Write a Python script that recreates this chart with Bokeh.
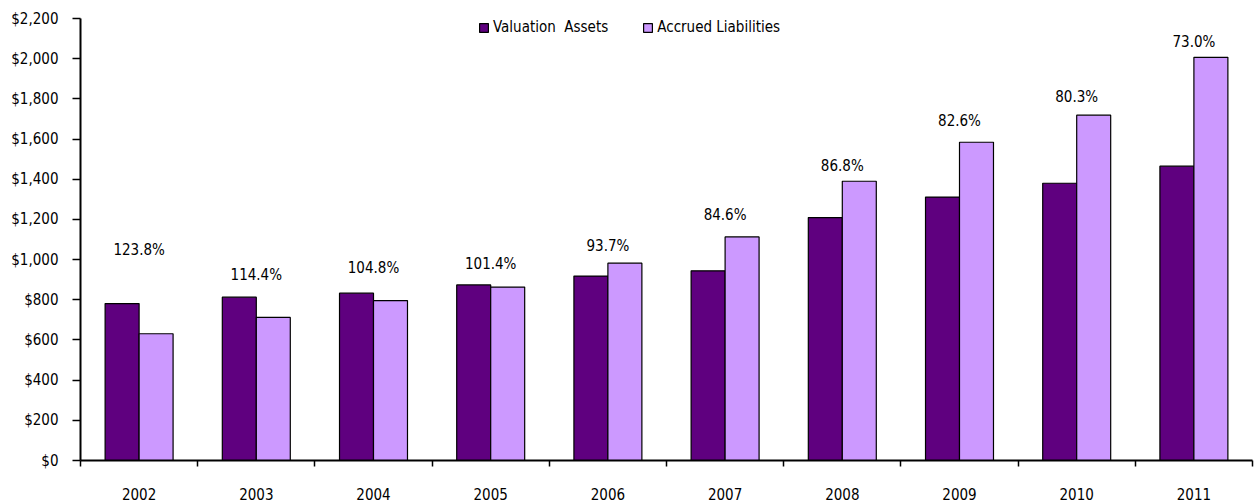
from bokeh.plotting import figure
from bokeh.models import (ColumnDataSource, FixedTicker, NumeralTickFormatter,
                          Range1d, Legend, LegendItem)
from bokeh.core.properties import value
from bokeh.embed import file_html
from bokeh.resources import INLINE

years = ["2002", "2003", "2004", "2005", "2006", "2007", "2008", "2009", "2010", "2011"]
valuation_assets = [781, 813, 833, 874, 918, 944, 1209, 1311, 1380, 1465]
accrued_liabilities = [631, 712, 796, 863, 982, 1113, 1390, 1584, 1719, 2007]
funded_ratio = ["123.8%", "114.4%", "104.8%", "101.4%", "93.7%", "84.6%", "86.8%", "82.6%", "80.3%", "73.0%"]
label_level = [1050, 921, 956, 976, 1070, 1224, 1468, 1689, 1808, 2082]
y_ticks = list(range(0, 2201, 200))

FONT = "'Liberation Sans Narrow', 'DejaVu Sans Condensed', sans-serif"
ASSET_COLOR = "#5F007F"
LIAB_COLOR = "#CC99FF"

n = len(years)
centers = [i + 0.5 for i in range(n)]
bw = 0.29

src = ColumnDataSource(dict(
    xa=[c - bw / 2 for c in centers],
    xl=[c + bw / 2 for c in centers],
    xc=centers,
    assets=valuation_assets,
    liab=accrued_liabilities,
    lab=funded_ratio,
    ly=label_level,
))

p = figure(width=1256, height=504, output_backend="svg", toolbar_location=None,
           x_range=Range1d(0, n), y_range=Range1d(0, 2200),
           min_border_left=80, min_border_right=4, min_border_top=18, min_border_bottom=44)
p.outline_line_color = None
p.xgrid.grid_line_color = None
p.ygrid.grid_line_color = None
p.background_fill_color = "white"
p.border_fill_color = "white"

ra = p.vbar(x="xa", top="assets", width=bw, source=src, fill_color=ASSET_COLOR,
            line_color="black", line_width=1.2)
rl = p.vbar(x="xl", top="liab", width=bw, source=src, fill_color=LIAB_COLOR,
            line_color="black", line_width=1.2)

p.text(x="xc", y="ly", text="lab", source=src, text_align="center",
       text_baseline="middle", text_font=value(FONT), text_font_size="15px",
       text_color="black")

# x axis: labels at category centers, tick marks at boundaries
xa = p.xaxis[0]
xa.ticker = FixedTicker(ticks=centers, minor_ticks=list(range(n + 1)))
xa.major_label_overrides = {c: y for c, y in zip(centers, years)}
xa.major_tick_in = 0
xa.major_tick_out = 0
xa.minor_tick_in = 0
xa.minor_tick_out = 6
xa.minor_tick_line_color = "black"
xa.minor_tick_line_width = 1.5
xa.axis_line_width = 2
xa.axis_line_color = "black"
xa.major_label_text_font = FONT
xa.major_label_text_font_size = "15px"
xa.major_label_text_color = "black"
xa.major_label_standoff = 21

ya = p.yaxis[0]
ya.ticker = FixedTicker(ticks=y_ticks)
ya.formatter = NumeralTickFormatter(format="$0,0")
ya.major_tick_in = 0
ya.major_tick_out = 8
ya.major_tick_line_width = 1.5
ya.major_tick_line_color = "black"
ya.minor_tick_line_color = None
ya.axis_line_width = 2
ya.axis_line_color = "black"
ya.major_label_text_font = FONT
ya.major_label_text_font_size = "15px"
ya.major_label_text_color = "black"
ya.major_label_standoff = 14

legend = Legend(items=[LegendItem(label="Valuation  Assets", renderers=[ra]),
                       LegendItem(label="Accrued Liabilities", renderers=[rl])],
                orientation="horizontal", location=(398, 424),
                glyph_width=11, glyph_height=11, spacing=34, padding=0, margin=0,
                label_standoff=4, border_line_color=None, background_fill_alpha=0,
                label_text_font=FONT, label_text_font_size="15px",
                label_text_color="black")
p.add_layout(legend, "center")

open("out.html", "w").write(file_html(p, INLINE))
